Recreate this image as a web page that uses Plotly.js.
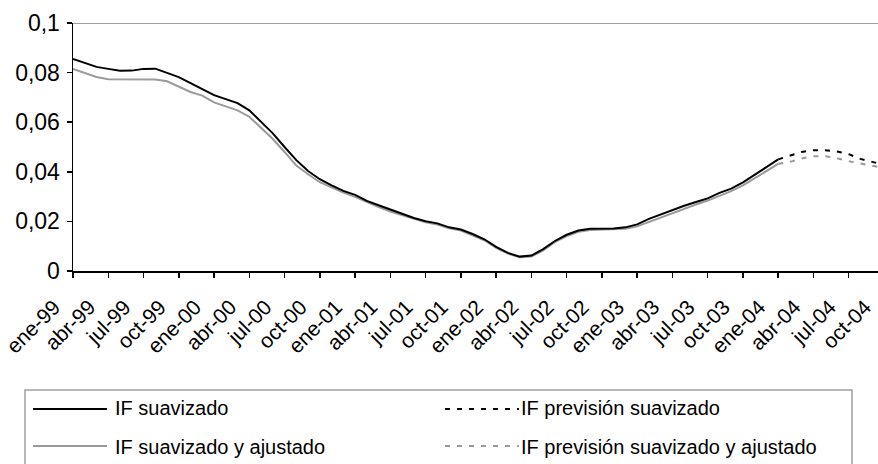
<!DOCTYPE html>
<html>
<head>
<meta charset="utf-8">
<script src="https://cdn.plot.ly/plotly-3.0.1.min.js"></script>
<style>
html,body{margin:0;padding:0;overflow:hidden;background:#fff;width:878px;height:464px;}
#chart{width:889px;height:464px;}
</style>
</head>
<body>
<div id="chart"></div>
<script>
// Category labels (monthly, ene-99 .. oct-04)
const monthNames = ['ene','feb','mar','abr','may','jun','jul','ago','sep','oct','nov','dic'];
const yearNames = ['99','00','01','02','03','04'];
const months = [];
yearNames.forEach(function(yy){ monthNames.forEach(function(mm){ months.push(mm + '-' + yy); }); });
const categories = months.slice(0, 70);

// Tick labels shown on the x axis
const tickLabels = ['ene-99','abr-99','jul-99','oct-99','ene-00','abr-00','jul-00','oct-00',
  'ene-01','abr-01','jul-01','oct-01','ene-02','abr-02','jul-02','oct-02',
  'ene-03','abr-03','jul-03','oct-03','ene-04','abr-04','jul-04','oct-04'];

// IF suavizado (ene-99 .. ene-04)
const ifSuavizado = [
  0.0855,0.0838,0.0823,0.0815,0.0807,0.0808,0.0815,0.0816,0.0800,0.0782,0.0758,0.0733,
  0.0709,0.0693,0.0677,0.0648,0.0601,0.0555,0.0500,0.0447,0.0403,0.0370,0.0345,0.0323,
  0.0307,0.0283,0.0265,0.0247,0.0232,0.0214,0.0201,0.0192,0.0176,0.0167,0.0149,0.0128,
  0.0097,0.0073,0.0058,0.0062,0.0088,0.0121,0.0146,0.0163,0.0170,0.0171,0.0171,0.0176,
  0.0188,0.0210,0.0228,0.0245,0.0263,0.0278,0.0293,0.0315,0.0332,0.0357,0.0388,0.0420,
  0.0450];

// IF suavizado y ajustado (ene-99 .. ene-04)
const ifAjustado = [
  0.0815,0.0797,0.0782,0.0773,0.0772,0.0772,0.0772,0.0772,0.0765,0.0743,0.0722,0.0707,
  0.0680,0.0664,0.0648,0.0622,0.0578,0.0532,0.0480,0.0425,0.0390,0.0358,0.0337,0.0316,
  0.0299,0.0277,0.0258,0.0240,0.0225,0.0208,0.0196,0.0187,0.0172,0.0163,0.0145,0.0124,
  0.0093,0.0070,0.0055,0.0058,0.0083,0.0116,0.0141,0.0158,0.0165,0.0166,0.0166,0.0170,
  0.0180,0.0198,0.0217,0.0235,0.0252,0.0268,0.0284,0.0303,0.0322,0.0345,0.0375,0.0405,
  0.0432];

// IF previsión suavizado (ene-04 .. oct-04)
const ifPrevSuavizado = [0.0450,0.0466,0.0480,0.0487,0.0487,0.0482,0.0471,0.0452,0.0440,0.0428];
// IF previsión suavizado y ajustado (ene-04 .. oct-04)
const ifPrevAjustado = [0.0432,0.0440,0.0454,0.0463,0.0463,0.0455,0.0443,0.0434,0.0425,0.0415];

const legendNames = ['IF suavizado','IF previsión suavizado','IF suavizado y ajustado','IF previsión suavizado y ajustado'];

const BLACK = '#000000';
const GREY = '#9a9a9a';
const FONT = 'Liberation Sans, Arial, sans-serif';

const histX = categories.slice(0, ifSuavizado.length);
const prevX = categories.slice(ifSuavizado.length - 1, ifSuavizado.length - 1 + ifPrevSuavizado.length);

const traces = [
  {x: histX, y: ifAjustado, type:'scatter', mode:'lines', name: legendNames[2], line:{color:GREY, width:2}},
  {x: prevX, y: ifPrevAjustado, type:'scatter', mode:'lines', name: legendNames[3], line:{color:GREY, width:2, dash:'5px,7px'}},
  {x: histX, y: ifSuavizado, type:'scatter', mode:'lines', name: legendNames[0], line:{color:BLACK, width:2}},
  {x: prevX, y: ifPrevSuavizado, type:'scatter', mode:'lines', name: legendNames[1], line:{color:BLACK, width:2, dash:'5px,7px'}}
];

// pixel -> paper helpers for the hand-drawn legend box
const M = {l:73, r:5, t:23, b:193};
const W = 889, H = 464;
const pw = W - M.l - M.r, ph = H - M.t - M.b;
function px(x){ return (x - M.l) / pw; }
function py(y){ return (H - M.b - y) / ph; }

const shapes = [
  {type:'line', xref:'paper', yref:'y', x0:0, x1:1, y0:0.1, y1:0.1, line:{color:'#a0a0a0', width:2}},
  {type:'rect', xref:'paper', yref:'paper', x0:px(25), x1:px(852), y0:py(390), y1:py(470), line:{color:'#a0a0a0', width:1.5}, fillcolor:'rgba(0,0,0,0)'},
  {type:'line', xref:'paper', yref:'paper', x0:px(33), x1:px(107), y0:py(409), y1:py(409), line:{color:BLACK, width:2}},
  {type:'line', xref:'paper', yref:'paper', x0:px(33), x1:px(107), y0:py(446), y1:py(446), line:{color:GREY, width:2}},
  {type:'line', xref:'paper', yref:'paper', x0:px(445), x1:px(519), y0:py(409), y1:py(409), line:{color:BLACK, width:2, dash:'5px,7px'}},
  {type:'line', xref:'paper', yref:'paper', x0:px(445), x1:px(519), y0:py(446), y1:py(446), line:{color:GREY, width:2, dash:'5px,7px'}}
];

const annFont = {family: FONT, size: 20, color: '#000'};
const annotations = [
  {xref:'paper', yref:'paper', x:px(113), y:py(408), text:legendNames[0], showarrow:false, xanchor:'left', yanchor:'middle', font:annFont},
  {xref:'paper', yref:'paper', x:px(113), y:py(447), text:legendNames[2], showarrow:false, xanchor:'left', yanchor:'middle', font:annFont},
  {xref:'paper', yref:'paper', x:px(519), y:py(408), text:legendNames[1], showarrow:false, xanchor:'left', yanchor:'middle', font:annFont},
  {xref:'paper', yref:'paper', x:px(519), y:py(447), text:legendNames[3], showarrow:false, xanchor:'left', yanchor:'middle', font:annFont}
];

const layout = {
  width: W, height: H,
  margin: M,
  paper_bgcolor:'#fff', plot_bgcolor:'#fff',
  showlegend:false,
  separators: ',.',
  font:{family: FONT, color:'#000'},
  xaxis:{
    type:'category',
    categoryorder:'array', categoryarray: categories,
    range:[0, categories.length - 1],
    tickmode:'array', tickvals: tickLabels, ticktext: tickLabels,
    tickangle:-45,
    tickfont:{family: FONT, size:21, color:'#000'},
    ticks:'outside', ticklen:5, tickwidth:1.5, tickcolor:'#000',
    ticklabelshift:-19, ticklabelstandoff:9,
    showline:true, linecolor:'#000', linewidth:1.5,
    showgrid:false, zeroline:false, fixedrange:true
  },
  yaxis:{
    range:[0, 0.1],
    tickmode:'linear', tick0:0, dtick:0.02,
    tickfont:{family: FONT, size:23, color:'#000'},
    ticks:'outside', ticklen:5, tickwidth:1.5, tickcolor:'#000',
    showline:true, linecolor:'#000', linewidth:1.5,
    showgrid:false, zeroline:false, fixedrange:true,
    ticklabelstandoff: 2
  },
  shapes: shapes,
  annotations: annotations
};

Plotly.newPlot('chart', traces, layout, {staticPlot:true, displayModeBar:false});
</script>
</body>
</html>
